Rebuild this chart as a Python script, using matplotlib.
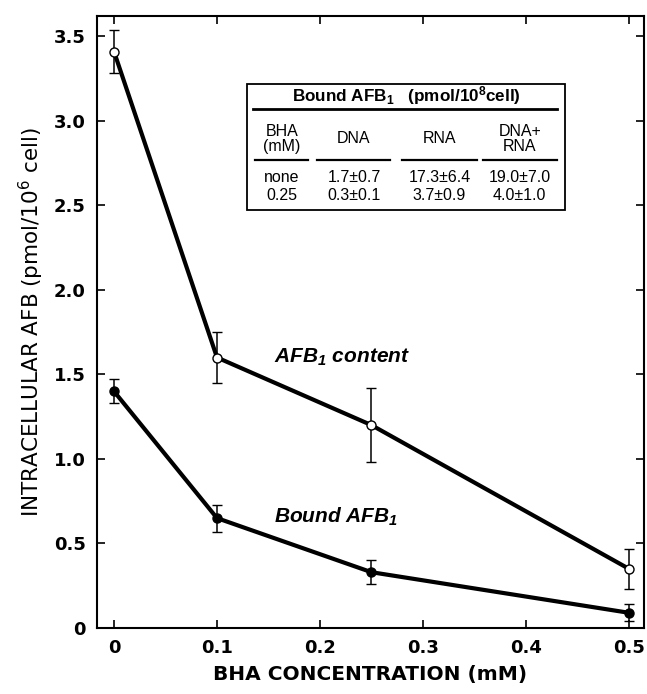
import matplotlib
matplotlib.use("Agg")
import matplotlib.pyplot as plt
from matplotlib.patches import Rectangle

plt.rcParams['font.family'] = ['Liberation Sans', 'DejaVu Sans']
plt.rcParams['mathtext.default'] = 'regular'

# data
bha = [0, 0.1, 0.25, 0.5]
content = [3.41, 1.60, 1.20, 0.35]
content_err = [0.13, 0.15, 0.22, 0.12]
bound = [1.40, 0.65, 0.33, 0.09]
bound_err = [0.07, 0.08, 0.07, 0.05]

xticks = [0, 0.1, 0.2, 0.3, 0.4, 0.5]
xticklabels = ['0', '0.1', '0.2', '0.3', '0.4', '0.5']
yticks = [0, 0.5, 1.0, 1.5, 2.0, 2.5, 3.0, 3.5]
yticklabels = ['0', '0.5', '1.0', '1.5', '2.0', '2.5', '3.0', '3.5']

tbl_cols = ['BHA\n(mM)', 'DNA', 'RNA', 'DNA+\nRNA']
tbl_rows = [['none', '1.7±0.7', '17.3±6.4', '19.0±7.0'],
            ['0.25', '0.3±0.1', '3.7±0.9', '4.0±1.0']]

fig = plt.figure(figsize=(6.47, 6.94), dpi=100)
ax = fig.add_axes([97 / 647, 1 - 628 / 694, (644 - 97) / 647, (628 - 16) / 694])

ax.errorbar(bha, content, yerr=content_err, color='black', lw=3.0,
            marker='o', ms=6.5, mfc='white', mec='black', mew=1.0,
            ecolor='black', elinewidth=1.1, capsize=3.5, capthick=1.1, zorder=3)
ax.errorbar(bha, bound, yerr=bound_err, color='black', lw=3.0,
            marker='o', ms=6.5, mfc='black', mec='black', mew=1.0,
            ecolor='black', elinewidth=1.1, capsize=3.5, capthick=1.1, zorder=3)

ax.set_xlim(-0.0165, 0.5146)
ax.set_ylim(0, 3.62)
ax.set_xticks(xticks)
ax.set_xticklabels(xticklabels, fontsize=13, fontweight='bold', family='DejaVu Sans')
ax.set_yticks(yticks)
ax.set_yticklabels(yticklabels, fontsize=13, fontweight='bold', family='DejaVu Sans')
ax.tick_params(direction='in', length=6, width=1.2, top=True, right=True, pad=8)
for s in ax.spines.values():
    s.set_linewidth(1.5)

ax.set_xlabel('BHA CONCENTRATION (mM)', fontsize=14.5, fontweight='bold',
              family='DejaVu Sans', labelpad=6)
ax.set_ylabel('INTRACELLULAR AFB (pmol/10$^6$ cell)', fontsize=15.5,
              family='DejaVu Sans', labelpad=6)

ax.text(0.155, 1.60, 'AFB$_1$ content', fontsize=15, fontweight='bold',
        fontstyle='italic', ha='left', va='center')
ax.text(0.155, 0.66, 'Bound AFB$_1$', fontsize=15, fontweight='bold',
        fontstyle='italic', ha='left', va='center')

# inset table
x0, x1, y0, y1 = 0.129, 0.438, 2.47, 3.22
ax.add_patch(Rectangle((x0, y0), x1 - x0, y1 - y0, fill=False, lw=1.3,
                       ec='black', zorder=4))
ax.text(0.2835, 3.15, 'Bound AFB$_1$   (pmol/10$^8$cell)', fontsize=12.3,
        fontweight='bold', ha='center', va='center')
ax.plot([0.135, 0.430], [3.07, 3.07], color='black', lw=2)
colx = [0.163, 0.233, 0.316, 0.394]
col_lo = [0.137, 0.197, 0.280, 0.358]
col_hi = [0.188, 0.268, 0.352, 0.430]
for cx, lo, hi, lab in zip(colx, col_lo, col_hi, tbl_cols):
    ax.text(cx, 2.895, lab, fontsize=11.5, ha='center', va='center', linespacing=1.0)
    ax.plot([lo, hi], [2.77, 2.77], color='black', lw=1.6)
for r, ry in zip(tbl_rows, [2.665, 2.56]):
    for cx, val in zip(colx, r):
        ax.text(cx, ry, val, fontsize=11.5, ha='center', va='center')

fig.savefig('out.png', dpi=100)
